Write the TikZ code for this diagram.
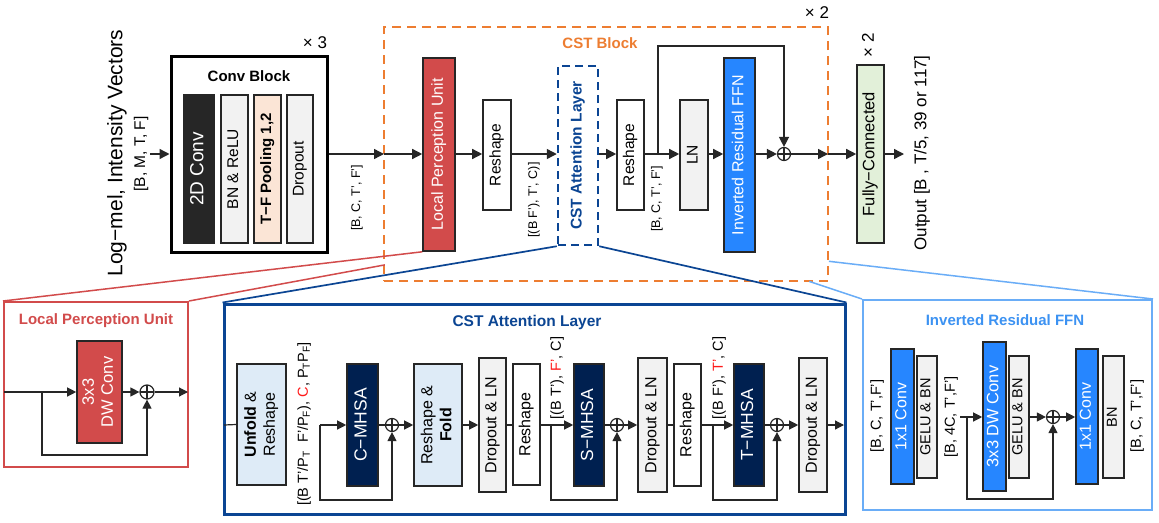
\documentclass[tikz,border=0pt]{standalone}
\usepackage{fontspec}
\setmainfont{Liberation Sans}
\usepackage{graphicx}
\usetikzlibrary{arrows.meta,calc}
\definecolor{dk}{HTML}{262626}
\definecolor{gr}{HTML}{F2F2F2}
\definecolor{peach}{HTML}{FBE5D6}
\definecolor{lred}{HTML}{D24B4B}
\definecolor{org}{HTML}{ED7D31}
\definecolor{dblue}{HTML}{0B4593}
\definecolor{navy}{HTML}{002050}
\definecolor{bblue}{HTML}{2686FF}
\definecolor{lblue}{HTML}{6AADF7}
\definecolor{tblue}{HTML}{3C92F2}
\definecolor{lbfill}{HTML}{DEEBF7}
\definecolor{green}{HTML}{E2F0D9}
\definecolor{pred}{HTML}{FF1A1A}
\newcommand\rtx[1]{\rotatebox{90}{\begin{tabular}{@{}c@{}}#1\end{tabular}}}
\newcommand\fsA{\fontsize{15.5pt}{18pt}\selectfont}
\newcommand\fsG{\fontsize{14.5pt}{17pt}\selectfont}
\newcommand\fsM{\fontsize{17.5pt}{20pt}\selectfont}
\newcommand\fsS{\fontsize{12.5pt}{15pt}\selectfont}
\newcommand\fsL{\fontsize{14.5pt}{17pt}\selectfont}
\newcommand\fsT{\fontsize{15pt}{18pt}\selectfont}
\tikzset{
  blk/.style={draw=dk, line width=1.6pt, inner sep=0pt, font=\fsA},
  arr/.style={line width=1.4pt, draw=dk, -{Triangle[length=10pt,width=10pt]}},
  lin/.style={line width=1.4pt, draw=dk},
  sarr/.style={line width=1.2pt, draw=dk, -{Triangle[length=9pt,width=9pt]}},
  slin/.style={line width=1.2pt, draw=dk},
  opl/.style={circle, draw=dk, line width=1.2pt, minimum size=13pt, inner sep=0pt,
    path picture={\draw[dk, line width=1.2pt] (path picture bounding box.north) -- (path picture bounding box.south)
      (path picture bounding box.west) -- (path picture bounding box.east);}},
  lbl/.style={rotate=90, inner sep=0pt, font=\fsS},
  ttl/.style={inner sep=0pt, font=\bfseries\fsT},
}
\begin{document}
\begin{tikzpicture}[x=1pt,y=-1pt]
\fill[white] (0,0) rectangle (1159,522);
\useasboundingbox (0,0) rectangle (1159,522);

% ---------------- top row ----------------
\node[lbl, font=\fontsize{21pt}{24pt}\selectfont] (inl1) at (117,153) {Log−mel, Intensity Vectors};
\node[lbl, font=\fontsize{15.5pt}{18pt}\selectfont] (inl2) at (141,154) {[B, M, T, F]};
\coordinate (src) at (150,154);

\node[draw=black, line width=3pt, minimum width=156pt, minimum height=196pt, inner sep=0pt] (convblk) at (249,154) {};
\node[ttl] (convt) at (249,76) {Conv Block};
\node[inner sep=0pt, font=\fontsize{17pt}{20pt}\selectfont] (x3) at (315,43) {× 3};
\node[blk, fill=dk, text=white, font=\fontsize{19pt}{22pt}\selectfont, minimum width=30pt, minimum height=148pt] (conv2d) at (199,169) {\rtx{2D Conv}};
\node[blk, fill=gr, minimum width=27pt, minimum height=148pt] (bnrelu) at (234.5,169) {\rtx{BN \& ReLU}};
\node[blk, fill=peach, font=\bfseries\fontsize{15pt}{18pt}\selectfont, minimum width=27pt, minimum height=148pt] (tfpool) at (267.5,169) {\rtx{T−F Pooling 1,2}};
\node[blk, fill=gr, minimum width=26pt, minimum height=148pt] (dropout) at (300,169) {\rtx{Dropout}};

\node[lbl] (lblA) at (357,198) {[B, C, T', F']};

% CST block
\node[draw=org, line width=2.6pt, dash pattern=on 9pt off 6pt, minimum width=444pt, minimum height=254pt, inner sep=0pt] (cstblk) at (606,154) {};
\node[ttl, text=org] (cstt) at (600,43) {CST Block};
\node[inner sep=0pt, font=\fontsize{17pt}{20pt}\selectfont] (x2a) at (817,13) {× 2};

\node[blk, fill=lred, text=white, font=\fontsize{16pt}{19pt}\selectfont, minimum width=32pt, minimum height=193pt] (lpu) at (439,154.5) {\rtx{Local Perception Unit}};
\node[blk, fill=white, minimum width=28pt, minimum height=110pt] (resh1) at (497,155) {\rtx{Reshape}};
\node[lbl] (lblB) at (534,200) {[(B F'), T', C)]};
\node[draw=dblue, line width=2.5pt, dash pattern=on 8pt off 5pt, inner sep=0pt, minimum width=40pt, minimum height=179pt, text=dblue, font=\bfseries\fontsize{15.5pt}{18pt}\selectfont] (cstal) at (578,155.5) {\rtx{CST Attention Layer}};
\node[blk, fill=white, minimum width=27pt, minimum height=110pt] (resh2) at (630.5,155) {\rtx{Reshape}};
\node[lbl] (lblC) at (657,199) {[B, C, T', F']};
\node[blk, fill=gr, minimum width=28pt, minimum height=110pt] (lnb) at (694,155) {\rtx{LN}};
\node[blk, fill=bblue, text=white, font=\fontsize{16pt}{19pt}\selectfont, minimum width=31pt, minimum height=194pt] (irffn) at (739.5,155) {\rtx{Inverted Residual FFN}};
\node[opl] (plus1) at (784,154) {};

\node[blk, fill=green, font=\fontsize{16.5pt}{19pt}\selectfont, minimum width=27pt, minimum height=178pt] (fc) at (870.5,154) {\rtx{Fully−Connected}};
\node[lbl, font=\fontsize{17pt}{20pt}\selectfont] (x2b) at (868,45) {× 2};
\node[lbl, font=\fontsize{17pt}{20pt}\selectfont] (outl) at (922,153) {Output [B , T/5, 39 or 117]};
\coordinate (outp) at (904,154);

% top connectors
\draw[arr] (src) -- (convblk.west);
\coordinate (cstL) at (384,154);
\coordinate (cstR) at (828,154);
\draw[arr] (convblk.east) -- (cstL);
\draw[arr] (cstL) -- (lpu.west |- cstL);
\draw[arr] (lpu.east |- cstL) -- (resh1.west |- cstL);
\draw[arr] (resh1.east |- cstL) -- (cstal.west |- cstL);
\draw[arr] (cstal.east |- cstL) -- (resh2.west |- cstL);
\coordinate (br1) at (658,154);
\draw[lin] (resh2.east |- cstL) -- (br1);
\draw[arr] (br1) -- (lnb.west |- cstL);
\coordinate (top1) at (784,46);
\draw[arr] (br1) |- (top1) -- (plus1.north);
\draw[arr] (lnb.east |- cstL) -- (irffn.west |- cstL);
\draw[arr] (irffn.east |- cstL) -- (plus1.west);
\draw[arr] (plus1.east) -- (cstR);
\draw[arr] (cstR) -- (fc.west);
\draw[arr] (fc.east) -- (outp);

% ---------------- bottom: LPU ----------------
\node[draw=lred, line width=2pt, minimum width=184pt, minimum height=165pt, inner sep=0pt] (lpubox) at (96,384.5) {};
\node[ttl, text=lred] (lput) at (96,321) {Local Perception Unit};
\node[blk, fill=lred, text=white, font=\fontsize{16.5pt}{19pt}\selectfont, minimum width=45pt, minimum height=102pt] (dwc) at (99.5,392) {\rtx{3x3\\DW Conv}};
\node[opl, minimum size=14pt] (plusL) at (147,392) {};
\coordinate (lin) at (4,392);
\coordinate (lbr) at (42,392);
\coordinate (lbot) at (42,455);
\coordinate (lout) at (188,392);
\draw[sarr] (lin) -- (dwc.west);
\draw[sarr] (lbr) -- (lbot) -| (plusL.south);
\draw[sarr] (dwc.east) -- (plusL.west);
\draw[sarr] (plusL.east) -- (lout);

% ---------------- bottom: CST attention layer ----------------
\node[draw=dblue, line width=3pt, minimum width=621pt, minimum height=210pt, inner sep=0pt] (cstbox) at (534.5,409) {};
\node[ttl, text=dblue, font=\bfseries\fontsize{15.5pt}{18pt}\selectfont] (cstbt) at (527,322) {CST Attention Layer};

\node[blk, fill=lbfill, font=\fontsize{16pt}{19pt}\selectfont, minimum width=49pt, minimum height=121pt] (unf) at (261.5,424.5) {\rtx{\textbf{Unfold} \&\\Reshape}};
\node[lbl, font=\fsL] (lblD) at (304,424) {[(B T'/P\textsubscript{T}\ \ F'/P\textsubscript{F}), \textcolor{pred}{C}, P\textsubscript{T}P\textsubscript{F}]};
\node[blk, fill=navy, text=white, font=\fsM, minimum width=31pt, minimum height=122pt] (cmh) at (362.5,425) {\rtx{C−MHSA}};
\node[opl] (plusC) at (392,425) {};
\node[blk, fill=lbfill, font=\fontsize{16pt}{19pt}\selectfont, minimum width=48pt, minimum height=122pt] (fold) at (438,425) {\rtx{Reshape \&\\\textbf{Fold}}};
\node[blk, fill=gr, font=\fontsize{16pt}{19pt}\selectfont, minimum width=27pt, minimum height=134pt] (drop1) at (492.5,425) {\rtx{Dropout \& LN}};
\node[blk, fill=white, font=\fontsize{16pt}{19pt}\selectfont, minimum width=27pt, minimum height=121pt] (resh3) at (526.5,424.5) {\rtx{Reshape}};
\node[lbl, font=\fsL] (lblE) at (557,378) {[(B T'), \textcolor{pred}{F'}, C]};
\node[blk, fill=navy, text=white, font=\fsM, minimum width=30pt, minimum height=122pt] (smh) at (589,425) {\rtx{S−MHSA}};
\node[opl] (plusS) at (617,425) {};
\node[blk, fill=gr, font=\fontsize{16pt}{19pt}\selectfont, minimum width=29pt, minimum height=134pt] (drop2) at (652.5,425) {\rtx{Dropout \& LN}};
\node[blk, fill=white, font=\fontsize{16pt}{19pt}\selectfont, minimum width=27pt, minimum height=122pt] (resh4) at (687.5,425) {\rtx{Reshape}};
\node[lbl, font=\fsL] (lblF) at (719,378) {[(B F'), \textcolor{pred}{T'}, C]};
\node[blk, fill=navy, text=white, font=\fsM, minimum width=30pt, minimum height=122pt] (tmh) at (749,425) {\rtx{T−MHSA}};
\node[opl] (plusT) at (777,425) {};
\node[blk, fill=gr, font=\fontsize{16pt}{19pt}\selectfont, minimum width=28pt, minimum height=134pt] (drop3) at (813,425) {\rtx{Dropout \& LN}};

\coordinate (cin) at (224,425);
\coordinate (cbr) at (320,425);
\coordinate (cbot) at (320,500);
\coordinate (sbr) at (551,425);
\coordinate (sbot) at (551,500);
\coordinate (tbr) at (713,425);
\coordinate (tbot) at (713,500);
\coordinate (cout) at (844,425);
\draw[slin] (cin) -- (unf.west);
\draw[sarr] (cbr) -- (cmh.west);
\draw[sarr] (cbr) -- (cbot) -| (plusC.south);
\draw[slin] (cmh.east) -- (plusC.west);
\draw[sarr] (plusC.east) -- (fold.west);
\draw[sarr] (fold.east) -- (drop1.west);
\draw[slin] (drop1.east) -- (resh3.west |- drop1.east);
\draw[sarr] (resh3.east |- smh.west) -- (smh.west);
\draw[sarr] (sbr) -- (sbot) -| (plusS.south);
\draw[slin] (smh.east) -- (plusS.west);
\draw[sarr] (plusS.east) -- (drop2.west);
\draw[slin] (drop2.east) -- (resh4.west);
\draw[sarr] (resh4.east) -- (tmh.west);
\draw[sarr] (tbr) -- (tbot) -| (plusT.south);
\draw[slin] (tmh.east) -- (plusT.west);
\draw[sarr] (plusT.east) -- (drop3.west);
\draw[sarr] (drop3.east) -- (cout);

% ---------------- bottom: IRFFN ----------------
\node[draw=lblue, line width=2pt, minimum width=289pt, minimum height=210pt, inner sep=0pt] (irbox) at (1007.5,405) {};
\node[ttl, text=tblue] (irt) at (1005,320) {Inverted Residual FFN};
\node[lbl, font=\fsL] (lblG) at (877,416) {[B, C, T',F']};
\node[blk, fill=bblue, text=white, font=\fontsize{16pt}{19pt}\selectfont, minimum width=23pt, minimum height=135pt] (c1a) at (902.5,416.5) {\rtx{1x1 Conv}};
\node[blk, fill=gr, font=\fsG, minimum width=20pt, minimum height=122pt] (gl1) at (927,417) {\rtx{GELU \& BN}};
\node[lbl, font=\fsL] (lblH) at (951,417) {[B, 4C, T',F']};
\node[blk, fill=bblue, text=white, font=\fontsize{16.5pt}{19pt}\selectfont, minimum width=23pt, minimum height=149pt] (dw) at (994.5,416.5) {\rtx{3x3 DW Conv}};
\node[blk, fill=gr, font=\fsG, minimum width=20pt, minimum height=122pt] (gl2) at (1019,417) {\rtx{GELU \& BN}};
\node[opl] (plusI) at (1053,417) {};
\node[blk, fill=bblue, text=white, font=\fontsize{16pt}{19pt}\selectfont, minimum width=22pt, minimum height=135pt] (c1b) at (1087,416.5) {\rtx{1x1 Conv}};
\node[blk, fill=gr, font=\fsG, minimum width=21pt, minimum height=122pt] (bnb) at (1113.5,417) {\rtx{BN}};
\node[lbl, font=\fsL] (lblI) at (1137,416) {[B, C, T',F']};

\coordinate (iin) at (960,417);
\coordinate (ibr) at (967,417);
\coordinate (ibot) at (967,499);
\draw[sarr] (iin) -- (dw.west |- iin);
\draw[sarr] (ibr) -- (ibot) -| (plusI.south);
\draw[sarr] (gl2.east |- plusI) -- (plusI.west);
\draw[sarr] (plusI.east) -- (c1b.west |- plusI);

% ---------------- zoom lines ----------------
\draw[lred, line width=1.5pt] (lpubox.north west) -- (lpu.south west);
\draw[lred, line width=1.5pt] (lpubox.north east) -- ($(lpubox.north east)!0.734!(lpu.south east)$);
\draw[dblue, line width=1.7pt] (cstbox.north west) -- (cstal.south west);
\draw[dblue, line width=1.7pt] (cstbox.north east) -- (cstal.south east);
\draw[lblue, line width=1.5pt] (irbox.north east) -- ($(irffn.south east)!0.184!(irbox.north east)$);
\draw[lblue, line width=1.5pt] (irbox.north west) -- ($(irffn.south west)!0.62!(irbox.north west)$);
\end{tikzpicture}
\end{document}
